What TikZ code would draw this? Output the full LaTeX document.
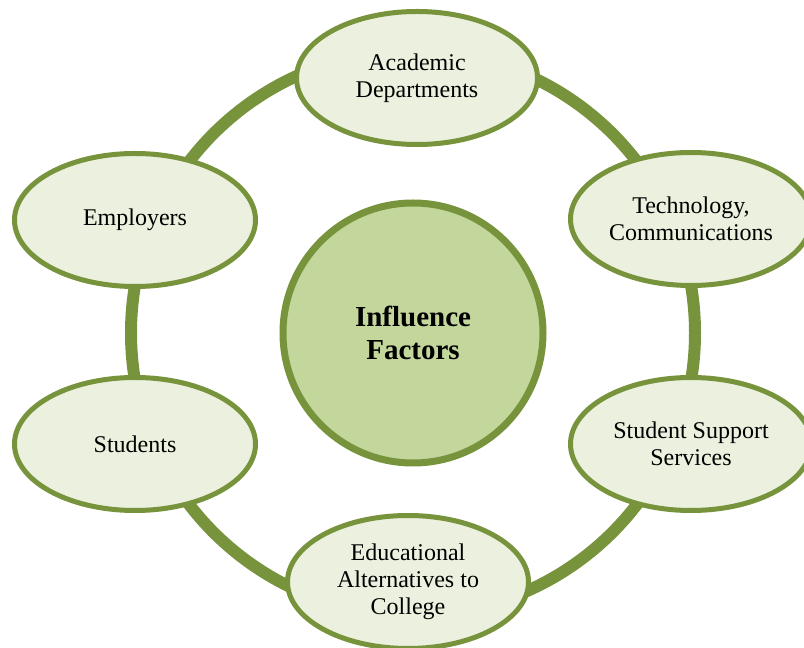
\documentclass[tikz,border=0pt]{standalone}
\usepackage{fontspec}
\setmainfont{Liberation Serif}
\usetikzlibrary{shapes.geometric}
\definecolor{olivedark}{HTML}{77933C}
\definecolor{olivepale}{HTML}{EBF1DE}
\definecolor{olivelight}{HTML}{C3D69B}
\tikzstyle{factor} = [ellipse, draw=olivedark, fill=olivepale, line width=3.75pt,
    minimum width=180.75pt, minimum height=99.75pt, inner sep=0pt, align=center,
    font=\fontsize{18}{20.25}\selectfont]
\tikzstyle{hub} = [circle, draw=olivedark, fill=olivelight, line width=5.25pt,
    minimum size=195pt, inner sep=0pt, align=center,
    font=\fontsize{21.75}{24.75}\selectfont\bfseries]
\tikzstyle{ring} = [draw=olivedark, line width=9pt]
\begin{document}
\begin{tikzpicture}[x=0.75pt, y=-0.75pt]
                \useasboundingbox (0,0) rectangle (804,648);
                \coordinate (mid) at (413,333);
                \draw[ring] (mid) circle (211.5pt);
                \node [hub] (influence) at (mid) {Influence\\Factors};
                \node [factor] (academic) at (417,78) {Academic\\Departments};
                \node [factor] (technology) at (691,219) {Technology,\\Communications};
                \node [factor] (support) at (691,444) {Student Support\\Services};
                \node [factor] (alternatives) at (408,582) {Educational\\Alternatives to\\College};
                \node [factor] (students) at (135,444) {Students};
                \node [factor] (employers) at (135,220) {Employers};
            \end{tikzpicture}
\end{document}
